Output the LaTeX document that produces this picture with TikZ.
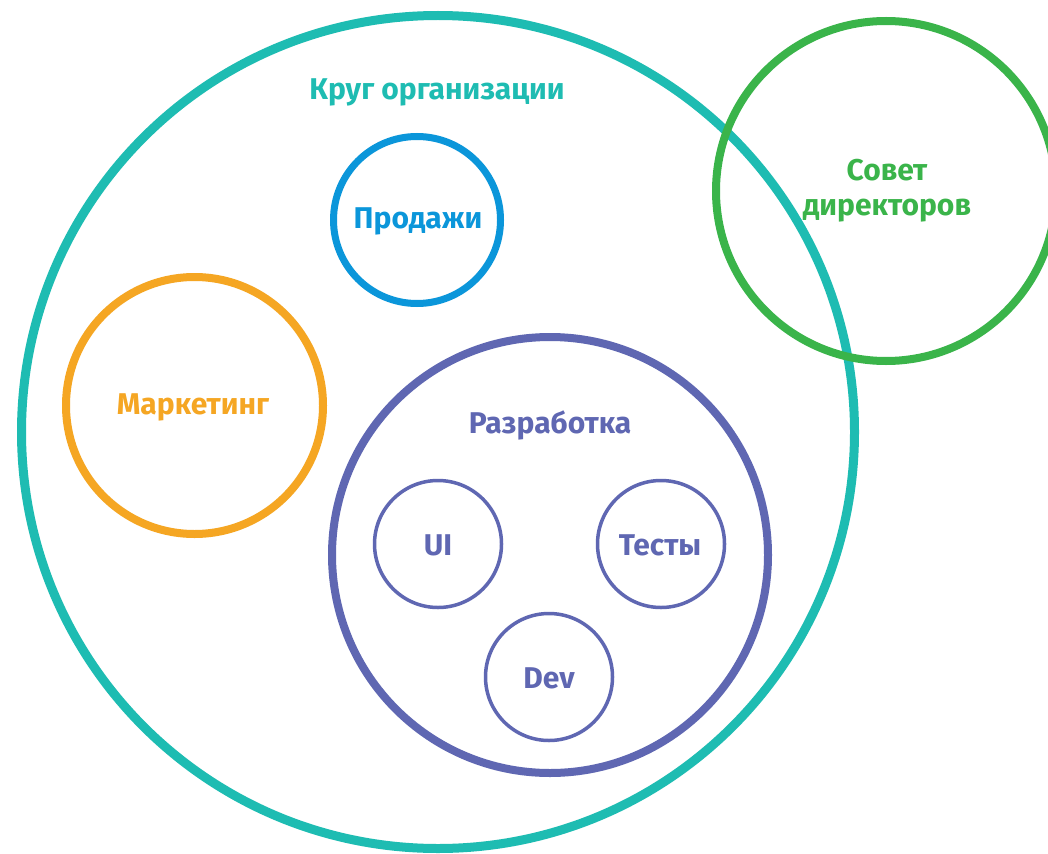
\documentclass[tikz,border=0pt]{standalone}
\usepackage{fontspec}
\setmainfont{Fira Sans}
\definecolor{orgC}{HTML}{1EBCB2}
\definecolor{boardC}{HTML}{3AB44A}
\definecolor{salesC}{HTML}{0B96DA}
\definecolor{mktC}{HTML}{F5A623}
\definecolor{devC}{HTML}{5F67B2}
\tikzset{
  ring/.style={circle, draw, inner sep=0pt, fill=none},
  lbl/.style={anchor=base, inner sep=0pt, font=\bfseries\fontsize{30}{38}\selectfont},
}
\begin{document}
\begin{tikzpicture}[x=1pt,y=-1pt]
\useasboundingbox (0,0) rectangle (1048,853);
\fill[white] (0,0) rectangle (1048,853);
\clip (0,0) rectangle (1048,853);
% organization circle
\node[ring, draw=orgC, line width=9pt, minimum size=833pt] (org) at (438,432) {};
\node[lbl, text=orgC] (orglbl) at (437,100) {Круг организации};
% board
\node[ring, draw=boardC, line width=8pt, minimum size=340pt] (board) at (886,191) {};
\node[lbl, text=boardC] (boardlbl1) at (887,180) {Совет};
\node[lbl, text=boardC] (boardlbl2) at (887,215) {директоров};
% sales
\node[ring, draw=salesC, line width=7pt, minimum size=167pt] (sales) at (417,220) {};
\node[lbl, text=salesC] (saleslbl) at (418,228) {Продажи};
% marketing
\node[ring, draw=mktC, line width=8pt, minimum size=257pt] (mkt) at (194.5,405.5) {};
\node[lbl, text=mktC] (mktlbl) at (193,414) {Маркетинг};
% development
\node[ring, draw=devC, line width=8pt, minimum size=436pt] (dev) at (550,555) {};
\node[lbl, text=devC] (devlbl) at (550,433) {Разработка};
\node[ring, draw=devC, line width=3.5pt, minimum size=127pt] (ui) at (438,544) {};
\node[lbl, text=devC] (uilbl) at (438,555) {UI};
\node[ring, draw=devC, line width=3.5pt, minimum size=127pt] (tests) at (661,544) {};
\node[lbl, text=devC] (testslbl) at (660,555) {Тесты};
\node[ring, draw=devC, line width=3.5pt, minimum size=127pt] (devsub) at (549,677) {};
\node[lbl, text=devC] (devsublbl) at (549,688) {Dev};
\end{tikzpicture}
\end{document}
